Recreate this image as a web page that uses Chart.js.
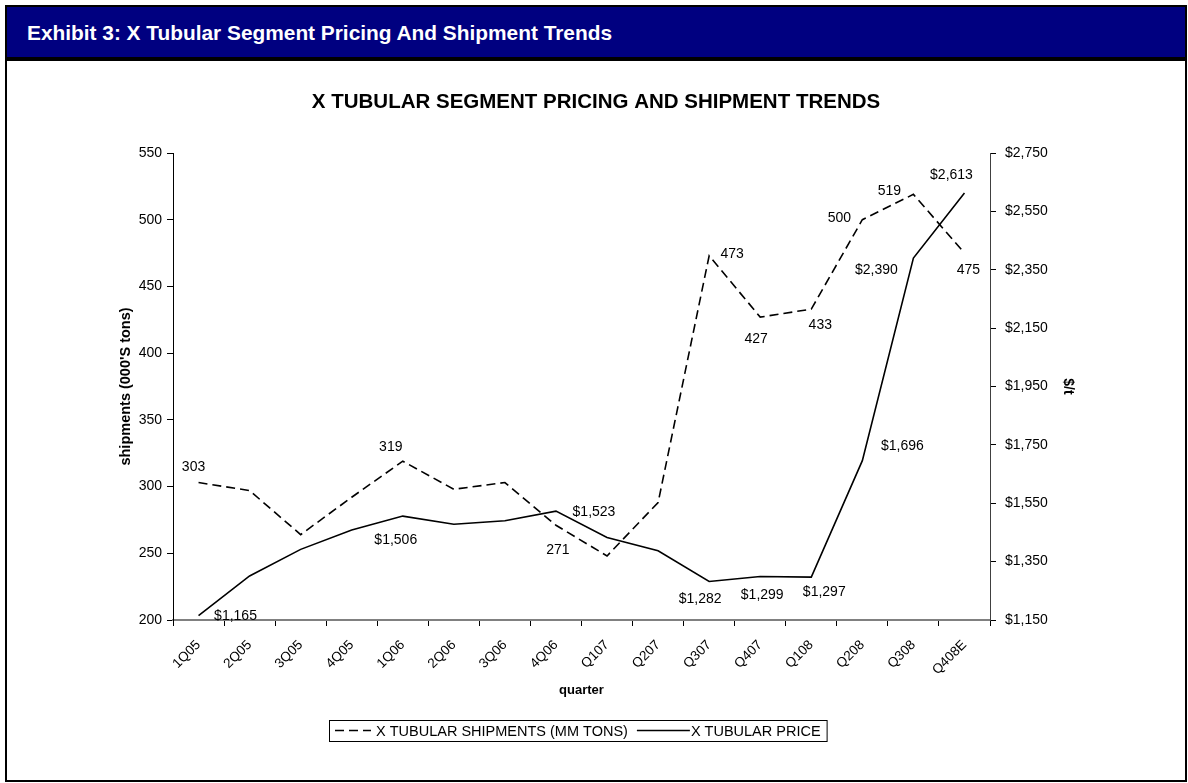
<!DOCTYPE html>
<html>
<head>
<meta charset="utf-8">
<script src="https://cdn.jsdelivr.net/npm/chart.js@4.4.1/dist/chart.umd.min.js"></script>
<style>
  html, body { margin: 0; padding: 0; background: #fff; width: 1188px; height: 783px; overflow: hidden; }
  #frame { position: absolute; left: 5px; top: 5px; width: 1182px; height: 777px; border: 2px solid #000; box-sizing: border-box; }
  #hdr { position: absolute; left: 7px; top: 7px; width: 1178px; height: 50px; background: #000080; border-bottom: 4px solid #000; }
  #hdr span { position: absolute; left: 20px; top: 1px; color: #fff; white-space: nowrap;
              font: bold 21px "Liberation Sans", Arial, sans-serif; line-height: 50px; transform-origin: 0 50%; }
  #wrap { position: absolute; left: 0; top: 0; width: 1188px; height: 783px; }
</style>
</head>
<body>
<div id="frame"></div>
<div id="hdr"><span id="hdrText">Exhibit 3: X Tubular Segment Pricing And Shipment Trends</span></div>
<div id="wrap"><canvas id="c" width="1188" height="783"></canvas></div>
<script>
// Quarterly categories
const quarters = ['1Q05','2Q05','3Q05','4Q05','1Q06','2Q06','3Q06','4Q06',
                  'Q107','Q207','Q307','Q407','Q108','Q208','Q308','Q408E'];
// Shipments, 000's tons (left axis)
const shipments = [303, 297, 264, 292, 319, 298, 303, 271, 248, 288, 473, 427, 433, 500, 519, 475];
// Price, $/t (right axis)
const prices = [1165, 1301, 1392, 1458, 1506, 1478, 1490, 1523, 1433, 1387, 1282, 1299, 1297, 1696, 2390, 2613];
// Axis tick values
const shipTicks = [200, 250, 300, 350, 400, 450, 500, 550];
const priceTicks = [1150, 1350, 1550, 1750, 1950, 2150, 2350, 2550, 2750];

// Which points carry a value label, and where the label sits relative to the point
const shipLabelAt = {0:[-5,-15], 4:[-12,-14], 7:[2,25], 10:[23,-2], 11:[-4,22], 12:[9,16], 13:[-23,-2], 14:[-24,-3], 15:[4,17]};
const priceLabelAt = {0:[37,1], 4:[-7,24], 7:[38,1], 10:[-9,18], 11:[2,19], 12:[13,15], 13:[40,-14], 14:[-37,12], 15:[-13,-18]};

const FONT = '"Liberation Sans", Arial, sans-serif';
const fmtMoney = v => '$' + Number(v).toLocaleString('en-US');

// squeeze the header text into a condensed look
(function () {
  const s = document.getElementById('hdrText');
  const w = s.getBoundingClientRect().width;
  s.style.transform = 'scaleX(' + (585 / w) + ')';
})();

const decor = {
  id: 'decor',
  afterDatasetsDraw(chart) {
    const ctx = chart.ctx;
    ctx.save();
    // chart title
    ctx.fillStyle = '#000';
    ctx.font = 'bold 20.5px ' + FONT;
    ctx.textAlign = 'center';
    ctx.textBaseline = 'middle';
    ctx.fillText('X TUBULAR SEGMENT PRICING AND SHIPMENT TRENDS', 596, 102);

    // value labels
    ctx.font = '14px ' + FONT;
    const drawLabels = (dsIndex, map, fmt) => {
      const meta = chart.getDatasetMeta(dsIndex);
      const data = chart.data.datasets[dsIndex].data;
      Object.keys(map).forEach(k => {
        const i = +k, p = meta.data[i];
        ctx.fillText(fmt(data[i]), p.x + map[k][0], p.y + map[k][1]);
      });
    };
    drawLabels(0, shipLabelAt, v => String(v));
    drawLabels(1, priceLabelAt, fmtMoney);

    // legend box
    ctx.font = '14.5px ' + FONT;
    ctx.textAlign = 'left';
    const ds = chart.data.datasets;
    const t0 = ds[0].label, t1 = ds[1].label;
    const w0 = ctx.measureText(t0).width, w1 = ctx.measureText(t1).width;
    const dashLen = 36, solidLen = 53, gap = 5, pad = 6, mid = 9;
    const total = pad + dashLen + gap + w0 + mid + solidLen + 1 + w1 + pad;
    const x0 = Math.round(578 - total / 2), y0 = 720, h = 21, cy = y0 + h / 2;
    ctx.strokeStyle = '#000';
    ctx.lineWidth = 1;
    ctx.strokeRect(x0 + 0.5, y0 + 0.5, total, h);
    let x = x0 + pad;
    ctx.lineWidth = 1.6;
    ctx.setLineDash(ds[0].borderDash);
    ctx.beginPath(); ctx.moveTo(x, cy); ctx.lineTo(x + dashLen, cy); ctx.stroke();
    ctx.setLineDash([]);
    x += dashLen + gap;
    ctx.fillText(t0, x, cy + 1);
    x += w0 + mid;
    ctx.beginPath(); ctx.moveTo(x, cy); ctx.lineTo(x + solidLen, cy); ctx.stroke();
    x += solidLen + 1;
    ctx.fillText(t1, x, cy + 1);
    ctx.restore();
  }
};

new Chart(document.getElementById('c'), {
  type: 'line',
  data: {
    labels: quarters,
    datasets: [
      { label: 'X TUBULAR SHIPMENTS (MM TONS)', data: shipments, yAxisID: 'y',
        borderColor: '#000', borderWidth: 1.6, borderDash: [9, 5], pointRadius: 0, tension: 0, fill: false },
      { label: 'X TUBULAR PRICE', data: prices, yAxisID: 'y1',
        borderColor: '#000', borderWidth: 1.6, pointRadius: 0, tension: 0, fill: false }
    ]
  },
  options: {
    responsive: false,
    animation: false,
    events: [],
    layout: { padding: { top: 153, left: 113, right: 108, bottom: 81 } },
    plugins: { legend: { display: false }, title: { display: false }, tooltip: { enabled: false } },
    scales: {
      x: {
        type: 'category', offset: true,
        afterFit: s => { s.height = 82; },
        grid: { display: true, offset: true, drawOnChartArea: false, tickLength: 6, color: '#000' },
        border: { display: true, color: '#808080', width: 2 },
        ticks: { color: '#000', font: { family: FONT, size: 13.5 }, maxRotation: 45, minRotation: 45, autoSkip: false, padding: 11 },
        title: { display: true, text: 'quarter', color: '#000', font: { family: FONT, size: 13, weight: 'bold' } }
      },
      y: {
        position: 'left', min: 200, max: 550,
        afterFit: s => { s.width = 60; },
        afterBuildTicks: s => { s.ticks = shipTicks.map(v => ({ value: v })); },
        grid: { display: true, drawOnChartArea: false, tickLength: 6, color: '#000' },
        border: { display: true, color: '#000', width: 1 },
        ticks: { color: '#000', font: { family: FONT, size: 14 }, padding: 5 },
        title: { display: true, text: "shipments (000'S tons)", color: '#000', font: { family: FONT, size: 14.5, weight: 'bold' } }
      },
      y1: {
        position: 'right', min: 1150, max: 2750,
        afterFit: s => { s.width = 90; },
        afterBuildTicks: s => { s.ticks = priceTicks.map(v => ({ value: v })); },
        grid: { display: true, drawOnChartArea: false, tickLength: 6, color: '#000' },
        border: { display: true, color: '#404040', width: 1 },
        ticks: { color: '#000', font: { family: FONT, size: 14 }, padding: 9, callback: v => fmtMoney(v) },
        title: { display: true, text: '$/t', color: '#000', font: { family: FONT, size: 14, weight: 'bold' } }
      }
    }
  },
  plugins: [decor]
});
</script>
</body>
</html>
